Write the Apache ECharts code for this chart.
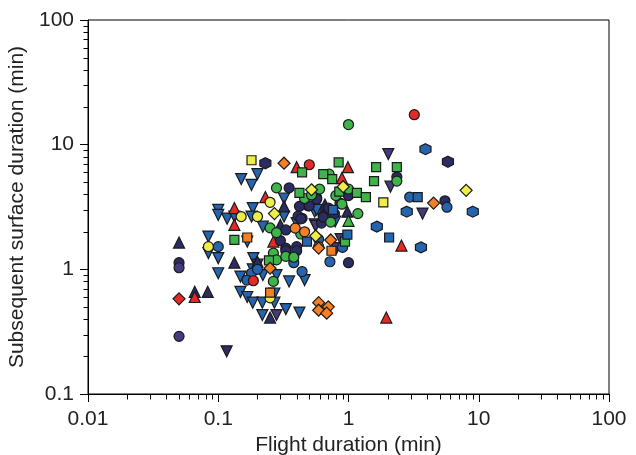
<!DOCTYPE html>
<html>
<head>
<meta charset="utf-8">
<script src="https://cdn.jsdelivr.net/npm/echarts@6/dist/echarts.min.js"></script>
<style>
  html, body { margin: 0; padding: 0; background: #fff; }
  #chart { width: 636px; height: 455px; }
</style>
</head>
<body>
<div id="chart"></div>
<script>
// tick labels
const xTicks = [0.01, 0.1, 1, 10, 100]
const yTicks = [0.1, 1, 10, 100]
// minor ticks (2..9 in every decade)
const xMinorTicks = [0.02,0.03,0.04,0.05,0.06,0.07,0.08,0.09, 0.2,0.3,0.4,0.5,0.6,0.7,0.8,0.9, 2,3,4,5,6,7,8,9, 20,30,40,50,60,70,80,90]
const yMinorTicks = [0.2,0.3,0.4,0.5,0.6,0.7,0.8,0.9, 2,3,4,5,6,7,8,9, 20,30,40,50,60,70,80,90]

// [flight duration, subsequent surface duration] per marker group
const navyCircle = [[2.35,5.5],[1.0,3.9],[5.5,3.55],[0.57,3.75],[0.49,3.23],[0.64,2.7],[0.44,2.57],[0.86,3.4],[0.62,2.35],[0.35,4.5],[0.42,3.2],[0.5,3.23],[0.41,2.67],[0.43,2.54],[0.3,1.7],[0.57,3.65],[0.33,2.07],[0.64,2.62],[0.4,1.52],[0.33,1.48],[0.05,1.13],[0.33,1.41],[0.4,1.41],[1.0,1.13],[0.7,3.1],[0.78,2.8]]
const purpleCircle = [[0.05,1.03],[0.05,0.29]]
const blueCircle = [[2.95,3.8],[5.7,3.15],[0.59,1.74],[0.1,1.52],[0.18,0.93],[0.166,0.82],[0.44,0.96],[0.38,1.13],[0.72,1.15],[0.9,1.5],[0.2,1.0]]
const greenCircle = [[1.0,14.5],[2.35,5.1],[0.71,5.8],[1.0,4.4],[1.18,2.8],[0.46,3.7],[0.52,3.95],[0.89,3.33],[0.73,2.39],[0.28,4.5],[0.25,2.15],[0.28,1.97],[0.43,1.92],[0.265,0.8],[0.265,1.35],[0.28,1.19],[0.33,1.27],[0.38,1.25],[0.6,4.4],[0.8,3.9]]
const yellowCircle = [[0.25,3.45],[0.15,2.65],[0.2,2.65],[0.084,1.52],[0.25,0.59]]
const redCircle = [[3.2,17.4],[0.5,6.9],[0.186,0.81]]
const orangeCircle = [[0.59,1.52],[0.39,2.14],[0.46,2.0]]
const blueHexagon = [[3.9,9.2],[9.0,2.9],[2.8,2.9],[1.65,2.2],[3.6,1.5]]
const navyHexagon = [[5.8,7.3],[0.23,7.1]]
const greenSquare = [[0.84,7.2],[1.63,6.6],[2.35,6.6],[1.57,5.1],[0.64,5.8],[0.75,5.3],[0.44,6.0],[0.85,4.2],[1.16,4.1],[1.36,3.8],[0.42,4.1],[0.133,1.72],[0.94,1.67],[0.245,1.18]]
const blueSquare = [[3.4,3.8],[0.76,3.0],[2.05,1.8],[0.98,1.9],[0.48,1.67]]
const yellowSquare = [[1.85,3.45],[0.18,7.5]]
const orangeSquare = [[0.167,1.8],[0.25,0.65],[0.74,1.41]]
const navyTriangle = [[0.98,2.9],[0.66,3.3],[0.05,1.64],[0.32,3.2],[0.3,2.27],[0.133,1.13],[0.066,0.66],[0.083,0.66],[0.25,0.41],[0.2,1.15]]
const redTriangle = [[0.99,6.6],[0.89,5.4],[0.4,6.6],[0.23,3.8],[0.133,3.1],[0.133,2.27],[0.265,1.67],[2.55,1.55],[0.066,0.6],[1.95,0.41]]
const greenTriangle = [[1.0,2.45]]
const blueInvTriangle = [[0.2,5.8],[0.15,5.3],[0.18,4.75],[0.32,3.7],[0.32,2.65],[0.1,3.0],[0.1,2.73],[0.117,2.55],[0.133,2.65],[0.184,3.1],[0.18,2.65],[0.22,2.2],[0.4,2.35],[0.55,2.9],[0.57,3.0],[0.084,1.83],[0.167,1.67],[0.084,1.35],[0.1,1.23],[0.1,0.93],[0.148,0.875],[0.148,0.66],[0.167,0.6],[0.184,0.54],[0.218,0.43],[0.33,0.48],[0.42,0.45],[0.218,0.54],[0.27,0.54],[0.27,0.64],[0.186,1.23],[0.184,1.0],[0.22,0.9],[0.28,0.9],[0.35,0.8],[0.46,0.82],[0.79,2.42]]
const purpleInvTriangle = [[2.02,8.4],[2.1,4.6],[3.7,2.8],[0.87,1.75],[0.55,2.3],[0.56,2.23],[0.28,0.43],[0.2,1.09],[0.81,1.48]]
const navyInvTriangle = [[0.116,0.22]]
const orangeDiamond = [[0.32,7.1],[4.5,3.4],[0.73,1.72],[0.59,0.54],[0.7,0.5],[0.59,0.47],[0.68,0.445],[0.25,1.02],[0.59,1.48]]
const yellowDiamond = [[0.91,4.6],[8.0,4.3],[0.52,4.35],[0.27,2.8],[0.56,1.85]]
const redDiamond = [[0.05,0.58]]

const NAVY = '#2b2c64'
const PURPLE = '#463a7e'
const BLUE = '#2565b0'
const GREEN = '#3db54a'
const YELLOW = '#eeee4a'
const ORANGE = '#f47f25'
const RED = '#e52a26'
const HEX = 'path://M50,0 L93.3,25 L93.3,75 L50,100 L6.7,75 L6.7,25 Z'

function mk(data, symbol, color, size, rotate) {
  return {
    type: 'scatter',
    data: data,
    symbol: symbol,
    symbolSize: size,
    symbolRotate: rotate || 0,
    itemStyle: { color: color, borderColor: '#1a1a1a', borderWidth: 1.2, opacity: 1 },
    emphasis: { disabled: true },
    animation: false
  }
}

// short outward tick drawn at a data position on the axis
function minorTicks(data, dx, dy) {
  return {
    type: 'custom',
    data: data,
    clip: false,
    silent: true,
    animation: false,
    renderItem: function (params, api) {
      const p = api.coord([api.value(0), api.value(1)])
      const x = Math.round(p[0]) + 0.5
      const y = Math.round(p[1]) + 0.5
      return {
        type: 'line',
        shape: { x1: x, y1: y, x2: x + dx, y2: y + dy },
        style: { stroke: '#000', lineWidth: 1 }
      }
    }
  }
}

const chart = echarts.init(document.getElementById('chart'))
const tickFont = { fontFamily: 'Liberation Sans', fontSize: 21, color: '#222' }
const titleFont = { fontFamily: 'Liberation Sans', fontSize: 21, color: '#222' }

chart.setOption({
  backgroundColor: '#fff',
  grid: {
    left: 88, right: 27, top: 20, bottom: 61,
    containLabel: false, outerBoundsMode: 'none',
    show: true, borderColor: '#000', borderWidth: 1
  },
  xAxis: {
    type: 'log', logBase: 10, min: 0.01, max: 100,
    name: 'Flight duration (min)', nameLocation: 'middle', nameGap: 37,
    nameTextStyle: titleFont,
    axisLine: { lineStyle: { color: '#000', width: 1 } },
    axisTick: { length: 8, lineStyle: { color: '#000' } },
    splitLine: { show: false },
    axisLabel: Object.assign({ margin: 15, formatter: v => String(xTicks.find(t => Math.abs(t - v) / t < 1e-6) ?? v) }, tickFont)
  },
  yAxis: {
    type: 'log', logBase: 10, min: 0.1, max: 100,
    name: 'Subsequent surface duration (min)', nameLocation: 'middle', nameGap: 52,
    nameTextStyle: titleFont,
    axisLine: { lineStyle: { color: '#000', width: 1 } },
    axisTick: { length: 8, lineStyle: { color: '#000' } },
    splitLine: { show: false },
    axisLabel: Object.assign({ margin: 14, formatter: v => String(yTicks.find(t => Math.abs(t - v) / t < 1e-6) ?? v) }, tickFont)
  },
  series: [
    minorTicks(xMinorTicks.map(v => [v, 0.1]), 0, 5),
    minorTicks(yMinorTicks.map(v => [0.01, v]), -5, 0),
    mk(blueInvTriangle, 'triangle', BLUE, 11, 180),
    mk(purpleInvTriangle, 'triangle', PURPLE, 11, 180),
    mk(navyInvTriangle, 'triangle', NAVY, 11, 180),
    mk(navyTriangle, 'triangle', NAVY, 11),
    mk(redTriangle, 'triangle', RED, 11),
    mk(greenTriangle, 'triangle', GREEN, 11),
    mk(navyCircle, 'circle', NAVY, 10),
    mk(purpleCircle, 'circle', PURPLE, 10),
    mk(blueCircle, 'circle', BLUE, 10),
    mk(greenCircle, 'circle', GREEN, 10),
    mk(yellowCircle, 'circle', YELLOW, 10),
    mk(orangeCircle, 'circle', ORANGE, 10),
    mk(redCircle, 'circle', RED, 10),
    mk(blueHexagon, HEX, BLUE, 11),
    mk(navyHexagon, HEX, NAVY, 11),
    mk(greenSquare, 'rect', GREEN, 9),
    mk(blueSquare, 'rect', BLUE, 9),
    mk(yellowSquare, 'rect', YELLOW, 9),
    mk(orangeSquare, 'rect', ORANGE, 9),
    mk(orangeDiamond, 'diamond', ORANGE, 12),
    mk(yellowDiamond, 'diamond', YELLOW, 12),
    mk(redDiamond, 'diamond', RED, 12)
  ]
})
</script>
</body>
</html>
